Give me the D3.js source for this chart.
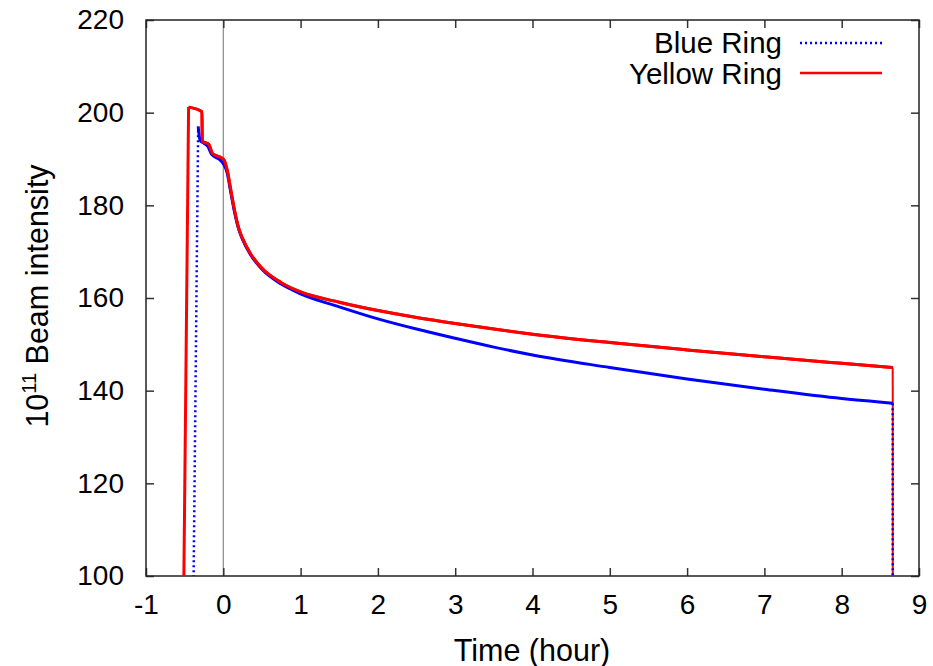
<!DOCTYPE html>
<html>
<head>
<meta charset="utf-8">
<script src="https://cdn.jsdelivr.net/npm/d3@7"></script>
<style>
  html, body { margin: 0; padding: 0; background: #fff; }
  svg { display: block; }
  text { font-family: "Liberation Sans", Arial, Helvetica, sans-serif; fill: #000; }
</style>
</head>
<body>
<svg id="chart" width="933" height="666"></svg>
<script>
// ---- data ----
const xTicks = [-1, 0, 1, 2, 3, 4, 5, 6, 7, 8, 9];
const yTicks = [100, 120, 140, 160, 180, 200, 220];

const blueTime = [-0.39, -0.325, -0.30, -0.25, -0.20, -0.15, -0.05, 0.0, 0.05, 0.10, 0.15, 0.20, 0.25, 0.35, 0.50, 0.75, 1.0, 1.5, 2.0, 2.5, 3.0, 3.5, 4.0, 5.0, 6.0, 7.0, 8.0, 8.66, 8.661];
const blueVal  = [90, 197.0, 194.0, 193.4, 192.7, 191.0, 189.9, 189.0, 187.0, 182.5, 178.2, 174.8, 172.6, 169.4, 166.2, 163.0, 160.9, 158.1, 155.5, 153.3, 151.3, 149.4, 147.7, 145.0, 142.5, 140.3, 138.3, 137.3, 90];

const redTime = [-0.516, -0.449, -0.276, -0.272, -0.19, -0.14, -0.02, 0.01, 0.05, 0.10, 0.15, 0.20, 0.25, 0.35, 0.50, 0.75, 1.0, 1.5, 2.0, 2.5, 3.0, 3.5, 4.0, 5.0, 6.0, 7.0, 8.0, 8.66, 8.661];
const redVal  = [90, 201.2, 200.2, 193.8, 193.2, 191.2, 190.2, 189.8, 187.6, 183.0, 178.5, 175.0, 172.8, 169.6, 166.4, 163.3, 161.3, 159.1, 157.3, 155.8, 154.5, 153.3, 152.2, 150.4, 148.8, 147.3, 145.9, 145.0, 90];

const seriesNames = ["Blue Ring", "Yellow Ring"];
const seriesColors = ["#0000ff", "#ff0000"];
const xLabel = "Time (hour)";
// ----------------------------------------

const svg = d3.select("#chart");
const m = { left: 146, right: 919, top: 20, bottom: 576 };
const x = d3.scaleLinear().domain([-1, 9]).range([m.left, m.right]);
const y = d3.scaleLinear().domain([100, 220]).range([m.bottom, m.top]);
const FS = 28;   // tick labels
const LFS = 30.5; // axis titles
const GFS = 29.5; // legend

svg.append("defs").append("clipPath").attr("id", "clip")
  .append("rect").attr("x", m.left).attr("y", m.top)
  .attr("width", m.right - m.left).attr("height", m.bottom - m.top);

// zero line
svg.append("line")
  .attr("x1", x(0)).attr("x2", x(0)).attr("y1", y(100)).attr("y2", y(220))
  .attr("stroke", "#888").attr("stroke-width", 1.2);

const tickLen = 8;
const fmt = d => String(d);
const axB = svg.append("g").attr("transform", `translate(0,${m.bottom})`)
  .call(d3.axisBottom(x).tickValues(xTicks).tickSizeInner(-tickLen).tickSizeOuter(0).tickPadding(18).tickFormat(fmt));
const axT = svg.append("g").attr("transform", `translate(0,${m.top})`)
  .call(d3.axisTop(x).tickValues(xTicks).tickSizeInner(-tickLen).tickSizeOuter(0).tickFormat(""));
const axL = svg.append("g").attr("transform", `translate(${m.left},0)`)
  .call(d3.axisLeft(y).tickValues(yTicks).tickSizeInner(-tickLen).tickSizeOuter(0).tickPadding(22).tickFormat(fmt));
const axR = svg.append("g").attr("transform", `translate(${m.right},0)`)
  .call(d3.axisRight(y).tickValues(yTicks).tickSizeInner(-tickLen).tickSizeOuter(0).tickFormat(""));

[axB, axT, axL, axR].forEach(g => {
  g.select(".domain").remove();
  g.selectAll(".tick line").attr("stroke", "#333").attr("stroke-width", 1.5);
  g.selectAll("text").attr("font-size", FS).attr("font-family", "Liberation Sans, Arial, sans-serif").attr("fill", "#000");
});
axB.selectAll(".tick text").attr("dy", "0.71em");

// frame
svg.append("rect").attr("x", m.left).attr("y", m.top)
  .attr("width", m.right - m.left).attr("height", m.bottom - m.top)
  .attr("fill", "none").attr("stroke", "#222").attr("stroke-width", 1.5);

const plot = svg.append("g").attr("clip-path", "url(#clip)");

function drawSeries(times, vals, color, width, dotted) {
  const pts = times.map((t, i) => [x(t), y(vals[i])]);
  const n = pts.length;
  const mid = pts.slice(1, n - 1);
  const line = d3.line().curve(d3.curveMonotoneX);
  plot.append("path").attr("d", line(mid))
    .attr("fill", "none").attr("stroke", color).attr("stroke-width", width)
    .attr("stroke-linejoin", "round");
  [[pts[0], pts[1]], [pts[n - 2], pts[n - 1]]].forEach((seg, k) => {
    plot.append("line")
      .attr("x1", seg[0][0]).attr("y1", seg[0][1])
      .attr("x2", seg[1][0]).attr("y2", seg[1][1])
      .attr("stroke", color).attr("stroke-width", dotted ? 2.5 : (k === 1 ? 2 : width))
      .attr("stroke-dasharray", dotted ? "2,3" : null);
  });
}

drawSeries(redTime, redVal, seriesColors[1], 3, false);
drawSeries(blueTime, blueVal, seriesColors[0], 3, true);
// red curve on top of blue in the decay region (as in the reference)
(function () {
  const pts = redTime.map((t, i) => [x(t), y(redVal[i])]);
  plot.append("path").attr("d", d3.line().curve(d3.curveMonotoneX)(pts.slice(1, pts.length - 1)))
    .attr("fill", "none").attr("stroke", seriesColors[1]).attr("stroke-width", 3)
    .attr("stroke-linejoin", "round");
})();

// legend
const lg = svg.append("g");
seriesNames.forEach((name, i) => {
  const yy = 43 + i * 30;
  lg.append("text").attr("x", 782).attr("y", i === 0 ? 53 : 84)
    .attr("text-anchor", "end").attr("font-size", GFS).text(name);
  lg.append("line").attr("x1", 800).attr("x2", 882).attr("y1", yy).attr("y2", yy)
    .attr("stroke", seriesColors[i]).attr("stroke-width", 2.5)
    .attr("stroke-dasharray", i === 0 ? "2,3" : null);
});

// x label
svg.append("text").attr("x", 532).attr("y", 661).attr("text-anchor", "middle")
  .attr("font-size", LFS).text(xLabel);

// y label (rotated) with superscript
const yl = svg.append("text")
  .attr("transform", `translate(48,${296}) rotate(-90)`)
  .attr("text-anchor", "middle").attr("font-size", LFS);
yl.append("tspan").text("10");
yl.append("tspan").attr("font-size", 20).attr("dy", -12).text("11");
yl.append("tspan").attr("dy", 12).text(" Beam intensity");
</script>
</body>
</html>
